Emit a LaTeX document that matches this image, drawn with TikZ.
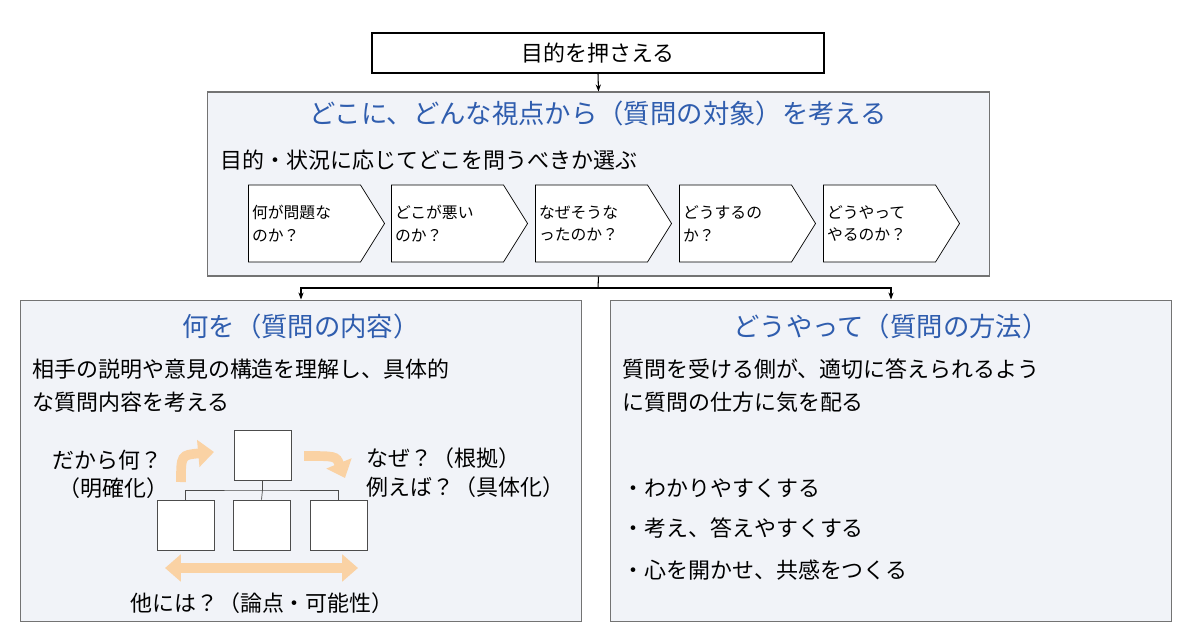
\documentclass[tikz,border=0pt]{standalone}
\usepackage{fontspec}
\setmainfont{Noto Sans CJK JP}
\usetikzlibrary{shapes.symbols, arrows.meta, positioning}
\definecolor{panelbg}{HTML}{F1F3F8}
\definecolor{titleblue}{HTML}{2F5DAE}
\definecolor{hintorange}{HTML}{FAD2A4}

\begin{document}
\begin{tikzpicture}[x=0.02cm, y=-0.02cm,
  panel/.style={draw=black!55, fill=panelbg, line width=0.6pt},
  title/.style={text=titleblue, font=\fontsize{15}{18}\selectfont},
  body/.style={anchor=west, font=\fontsize{12.5}{19}\selectfont, inner sep=0pt},
  stage/.style={signal, signal to=east, signal pointer angle=116, draw, fill=white,
    minimum width=2.7cm, minimum height=1.54cm, inner sep=2pt,
    text width=2.1cm, align=left, font=\fontsize{9}{13}\selectfont},
  box/.style={draw=black!70, fill=white, minimum width=1.14cm, minimum height=1cm, inner sep=0pt},
  hint/.style={hintorange, line width=5.5pt, -{Triangle[length=9pt, width=15pt]}},
  link/.style={-{Stealth[length=4pt]}, line width=0.6pt}]

  \useasboundingbox (0,0) rectangle (1200,638);

  % goal
  \node[draw, line width=0.8pt, minimum width=9.04cm, minimum height=0.8cm,
    font=\fontsize{12.5}{15}\selectfont] (goal) at (598,53) {目的を押さえる};

  % target panel
  \node[panel, minimum width=15.66cm, minimum height=3.68cm] (target) at (598.5,184) {};
  \draw[link] (goal.south) -- (target.north);
  \node[title] (ttitle) at (598,113) {どこに、どんな視点から（質問の対象）を考える};
  \node[body] (tsub) at (220,160) {目的・状況に応じてどこを問うべきか選ぶ};
  \node[stage] (s1) at (304.5,223.5) {何が問題な\\のか？};
  \node[stage] (s2) at (447.5,223.5) {どこが悪い\\のか？};
  \node[stage] (s3) at (591.5,223.5) {なぜそうな\\ったのか？};
  \node[stage] (s4) at (735.5,223.5) {どうするの\\か？};
  \node[stage] (s5) at (879.5,223.5) {どうやって\\やるのか？};

  % lower panels
  \node[panel, minimum width=11.24cm, minimum height=6.44cm] (what) at (301,461) {};
  \node[panel, minimum width=11.24cm, minimum height=6.44cm] (how) at (891,461) {};
  \coordinate (split) at (598,288);
  \draw[line width=0.6pt] (target.south) -- (split);
  \draw[link] (split) -| (what.north);
  \draw[link] (split) -| (how.north);

  % what
  \node[title] (wtitle) at (301,326) {何を（質問の内容）};
  \node[body] (w1) at (32,369) {相手の説明や意見の構造を理解し、具体的};
  \node[body] (w2) at (32,402) {な質問内容を考える};
  \node[box] (root) at (262.5,455) {};
  \node[box] (c1) at (185.5,525) {};
  \node[box] (c2) at (261.5,525) {};
  \node[box] (c3) at (338.5,525) {};
  \coordinate (fork) at (262.5,490);
  \draw[black!70] (root.south) -- (fork);
  \draw[black!70] (c1.north) |- (fork) -| (c3.north);
  \draw[black!70] (fork) -- (c2.north);
  \draw[hint] (181,482) .. controls (181,455) .. (214,452);
  \draw[hint] (304,456) .. controls (336,456) .. (345,478);
  \draw[hintorange, line width=5.5pt, {Triangle[length=9pt, width=15pt]}-{Triangle[length=9pt, width=15pt]}]
    (165,568) -- (358,568);
  \node[body] (h1) at (52,460) {だから何？};
  \node[body] (h2) at (58,488) {（明確化）};
  \node[body] (h3) at (366,458) {なぜ？（根拠）};
  \node[body] (h4) at (366,487) {例えば？（具体化）};
  \node[font=\fontsize{12.5}{15}\selectfont] (h5) at (262,603) {他には？（論点・可能性）};

  % how
  \node[title] (htitle) at (891,326) {どうやって（質問の方法）};
  \node[body] (m1) at (622,369) {質問を受ける側が、適切に答えられるよう};
  \node[body] (m2) at (622,402) {に質問の仕方に気を配る};
  \node[body] (b1) at (622,488) {・わかりやすくする};
  \node[body] (b2) at (622,528) {・考え、答えやすくする};
  \node[body] (b3) at (622,570) {・心を開かせ、共感をつくる};
\end{tikzpicture}
\end{document}
